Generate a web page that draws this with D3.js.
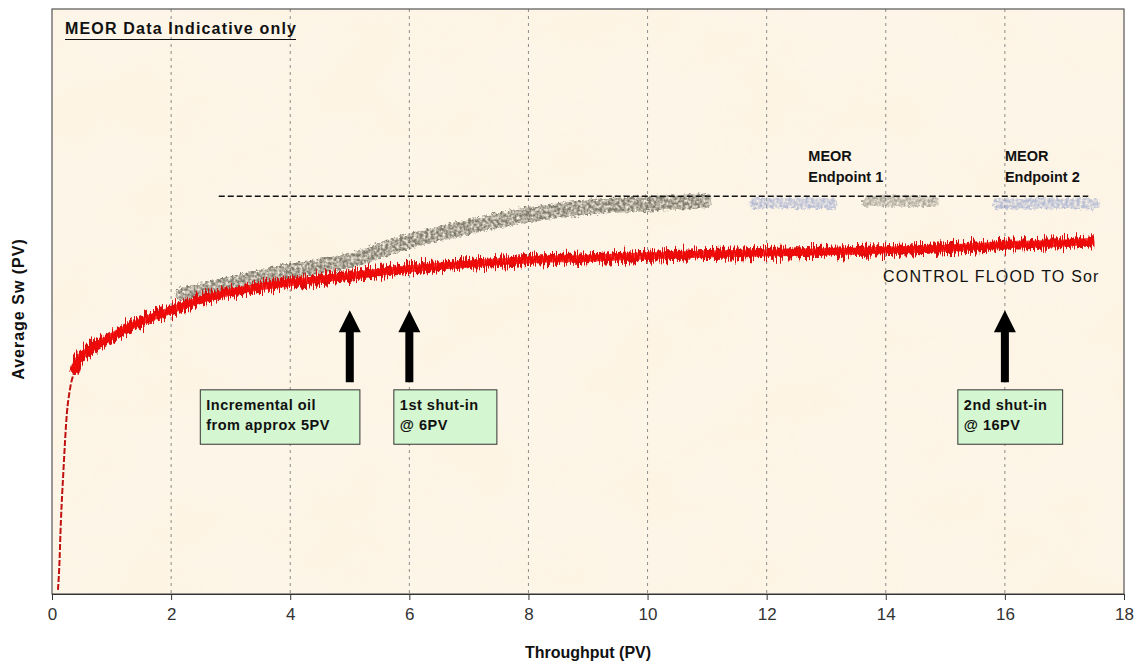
<!DOCTYPE html>
<html>
<head>
<meta charset="utf-8">
<script src="https://cdn.jsdelivr.net/npm/d3@7"></script>
<style>
  body { margin: 0; background: #fff; }
  svg { display: block; font-family: "Liberation Sans", Arial, sans-serif; }
</style>
</head>
<body>
<script>
// x ticks (PV)
var xTicks = [0, 2, 4, 6, 8, 10, 12, 14, 16, 18];

// control flood (red), y as fraction of axis height
var redX = [0.10, 0.12, 0.15, 0.19, 0.25, 0.30, 0.37, 0.44, 0.64, 0.97, 1.14, 1.5, 2.0, 2.5, 3.0, 4.0, 5.0, 6.0, 7.0, 8.0, 9.0, 10.0, 11.0, 12.0, 13.0, 14.0, 15.0, 16.0, 17.0, 17.5];
var redY = [0.007, 0.041, 0.126, 0.207, 0.309, 0.349, 0.379, 0.400, 0.418, 0.438, 0.448, 0.466, 0.485, 0.503, 0.516, 0.532, 0.544, 0.556, 0.564, 0.571, 0.574, 0.578, 0.581, 0.583, 0.585, 0.588, 0.591, 0.597, 0.600, 0.603];

// MEOR flood (grey band)
var meorX = [2.2, 3.0, 4.0, 5.0, 6.0, 7.2, 8.0, 9.1, 10.0, 10.95];
var meorY = [0.512, 0.530, 0.552, 0.570, 0.603, 0.632, 0.648, 0.662, 0.667, 0.672];

// MEOR endpoint segments
var end1X = [11.8, 12.4, 13.1], end1Y = [0.667, 0.669, 0.667];
var end2X = [13.7, 14.2, 14.8], end2Y = [0.671, 0.672, 0.671];
var end3X = [15.9, 16.7, 17.5], end3Y = [0.667, 0.668, 0.667];

// dashed target level
var targetX = [2.8, 17.4], targetY = 0.680;

// arrows (PV)
var arrowX = [5, 6, 16];

var W = 1136, H = 664;
var L = 52, R = 1124, T = 9, B = 594;

var x = d3.scaleLinear().domain([0, 18]).range([L, R]);
var y = d3.scaleLinear().domain([0, 1]).range([B, T]);

var svg = d3.select("body").append("svg").attr("width", W).attr("height", H);
var defs = svg.append("defs");

function region(f) {
  return f.attr("filterUnits", "userSpaceOnUse").attr("x", L).attr("y", T).attr("width", R - L).attr("height", B - T);
}

// paper texture
var paper = region(defs.append("filter").attr("id", "paper"));
paper.append("feTurbulence").attr("type", "fractalNoise").attr("baseFrequency", "0.01 0.014").attr("numOctaves", 4).attr("seed", 11);
paper.append("feColorMatrix").attr("type", "matrix")
  .attr("values", "0 0 0 0 0.98  0 0 0 0 0.88  0 0 0 0 0.72  1.8 0 0 0 -0.75");

// jagged red trace
var jag = region(defs.append("filter").attr("id", "jag"));
jag.append("feTurbulence").attr("type", "fractalNoise").attr("baseFrequency", "1.1 0.04").attr("numOctaves", 2).attr("seed", 7).attr("result", "n");
jag.append("feColorMatrix").attr("in", "n").attr("type", "matrix")
  .attr("values", "0 0 0 0 0.5  0 1 0 0 0  0 0 1 0 0  0 0 0 0 1").attr("result", "n2");
jag.append("feDisplacementMap").attr("in", "SourceGraphic").attr("in2", "n2").attr("scale", 20)
  .attr("xChannelSelector", "R").attr("yChannelSelector", "G");

// speckled band
var speck = region(defs.append("filter").attr("id", "speck"));
speck.append("feTurbulence").attr("type", "fractalNoise").attr("baseFrequency", "0.35").attr("numOctaves", 2).attr("seed", 3).attr("result", "n");
speck.append("feDisplacementMap").attr("in", "SourceGraphic").attr("in2", "n").attr("scale", 7)
  .attr("xChannelSelector", "R").attr("yChannelSelector", "G").attr("result", "d");
speck.append("feColorMatrix").attr("in", "n").attr("type", "matrix")
  .attr("values", "0 0 0 0 0  0 0 0 0 0  0 0 0 0 0  2.0 0 0 0 -0.35").attr("result", "m");
speck.append("feComposite").attr("in", "d").attr("in2", "m").attr("operator", "in");

// plot background
svg.append("rect").attr("x", L).attr("y", T).attr("width", R - L).attr("height", B - T).attr("fill", "#fdf5e7");
svg.append("rect").attr("x", L).attr("y", T).attr("width", R - L).attr("height", B - T)
  .attr("fill", "#fff").attr("filter", "url(#paper)").attr("opacity", 0.45);

// vertical grid
svg.append("g").selectAll("line")
  .data(xTicks.filter(function (d) { return d > 0 && d < 18; }))
  .enter().append("line")
  .attr("x1", function (d) { return x(d); }).attr("x2", function (d) { return x(d); })
  .attr("y1", T).attr("y2", B)
  .attr("stroke", "#8c8c8c").attr("stroke-width", 1).attr("stroke-dasharray", "3,4");

function pairs(xs, ys) { return xs.map(function (v, i) { return [v, ys[i]]; }); }
var smooth = d3.line().curve(d3.curveMonotoneX).x(function (d) { return x(d[0]); }).y(function (d) { return y(d[1]); });

// grey MEOR band
svg.append("path").datum(pairs(meorX, meorY))
  .attr("d", smooth).attr("fill", "none").attr("stroke", "#6a675a").attr("stroke-width", 15)
  .attr("stroke-linecap", "round").attr("opacity", 0.85).attr("filter", "url(#speck)");

// endpoint segments
[[end1X, end1Y, "#8797c8"], [end2X, end2Y, "#77746a"], [end3X, end3Y, "#8797c8"]].forEach(function (s) {
  svg.append("path").datum(pairs(s[0], s[1]))
    .attr("d", smooth).attr("fill", "none").attr("stroke", s[2]).attr("stroke-width", 11)
    .attr("stroke-linecap", "round").attr("opacity", 0.6).attr("filter", "url(#speck)");
});

// dashed target line
svg.append("line")
  .attr("x1", x(targetX[0])).attr("x2", x(targetX[1]))
  .attr("y1", y(targetY)).attr("y2", y(targetY))
  .attr("stroke", "#111").attr("stroke-width", 1.6).attr("stroke-dasharray", "6,3");

// red control flood
var redPts = pairs(redX, redY);
var redMain = redPts.filter(function (d) { return d[0] >= 0.37; });
svg.append("path").datum(redPts.filter(function (d) { return d[0] <= 0.44; }))
  .attr("d", smooth).attr("fill", "none").attr("stroke", "#c01010").attr("stroke-width", 2)
  .attr("stroke-dasharray", "6,2");
svg.append("path").datum(redMain)
  .attr("d", smooth).attr("fill", "none").attr("stroke", "#d80808").attr("stroke-width", 10)
  .attr("filter", "url(#jag)");
svg.append("path").datum(redMain)
  .attr("d", smooth).attr("fill", "none").attr("stroke", "#f50a0a").attr("stroke-width", 7)
  .attr("opacity", 0.8);

// arrows
var arrowTop = 0.485, arrowBase = 0.362;
svg.append("g").selectAll("path").data(arrowX).enter().append("path")
  .attr("d", function (d) {
    var cx = x(d), t = y(arrowTop), b = y(arrowBase), hw = 11, sw = 4, hh = 22;
    return "M" + cx + "," + t + "L" + (cx + hw) + "," + (t + hh) + "L" + (cx + sw) + "," + (t + hh) +
      "L" + (cx + sw) + "," + b + "L" + (cx - sw) + "," + b + "L" + (cx - sw) + "," + (t + hh) +
      "L" + (cx - hw) + "," + (t + hh) + "Z";
  })
  .attr("fill", "#000");

// annotation boxes
var boxes = [
  { x0: 2.49, x1: 5.17, lines: ["Incremental oil", "from approx 5PV"] },
  { x0: 5.74, x1: 7.47, lines: ["1st shut-in", "@ 6PV"] },
  { x0: 15.21, x1: 16.97, lines: ["2nd shut-in", "@ 16PV"] }
];
var bg = svg.append("g").selectAll("g").data(boxes).enter().append("g");
bg.append("rect")
  .attr("x", function (d) { return x(d.x0); }).attr("y", y(0.349))
  .attr("width", function (d) { return x(d.x1) - x(d.x0); }).attr("height", y(0.256) - y(0.349))
  .attr("fill", "#d4f6d0").attr("stroke", "#333").attr("stroke-width", 1);
bg.append("text")
  .attr("font-size", 14.5).attr("font-weight", "bold").attr("fill", "#111").attr("letter-spacing", 0.5)
  .selectAll("tspan").data(function (d) { return d.lines.map(function (l) { return { t: l, x: d.x0 }; }); })
  .enter().append("tspan")
  .attr("x", function (d) { return x(d.x) + 6; })
  .attr("y", function (d, i) { return y(0.349) + 20 + i * 20; })
  .text(function (d) { return d.t; });

// endpoint labels
[[12.7, "Endpoint 1"], [16.0, "Endpoint 2"]].forEach(function (e) {
  var t = svg.append("text").attr("font-size", 14.5).attr("font-weight", "bold").attr("fill", "#111");
  t.append("tspan").attr("x", x(e[0])).attr("y", 161).text("MEOR");
  t.append("tspan").attr("x", x(e[0])).attr("y", 182).text(e[1]);
});

svg.append("text").attr("x", 883).attr("y", 282).attr("font-size", 16).attr("letter-spacing", 1.2)
  .attr("fill", "#111").text("CONTROL FLOOD TO Sor");

// indicative note
svg.append("text").attr("x", 65).attr("y", 34).attr("font-size", 16).attr("font-weight", "bold")
  .attr("fill", "#111").attr("textLength", 231).text("MEOR Data Indicative only");
svg.append("line").attr("x1", 65).attr("x2", 296).attr("y1", 39.5).attr("y2", 39.5)
  .attr("stroke", "#111").attr("stroke-width", 1.2);

// frame
svg.append("rect").attr("x", L).attr("y", T).attr("width", R - L).attr("height", B - T)
  .attr("fill", "none").attr("stroke", "#555").attr("stroke-width", 1.2);

// x axis
var xAxis = svg.append("g").attr("transform", "translate(0," + B + ")")
  .call(d3.axisBottom(x).tickValues(xTicks).tickSize(6).tickPadding(8).tickFormat(d3.format("d")));
xAxis.select(".domain").attr("stroke", "#333");
xAxis.selectAll(".tick line").attr("stroke", "#333");
xAxis.selectAll(".tick text").attr("font-size", 17).attr("fill", "#333")
  .attr("font-family", "'Liberation Sans', Arial, sans-serif");

svg.append("text").attr("x", (L + R) / 2).attr("y", 658).attr("text-anchor", "middle")
  .attr("font-size", 16).attr("font-weight", "bold").attr("fill", "#111").text("Throughput (PV)");

svg.append("text").attr("transform", "translate(24," + 309 + ") rotate(-90)").attr("text-anchor", "middle")
  .attr("font-size", 16).attr("font-weight", "bold").attr("fill", "#111").attr("letter-spacing", 1)
  .text("Average Sw (PV)");
</script>
</body>
</html>
